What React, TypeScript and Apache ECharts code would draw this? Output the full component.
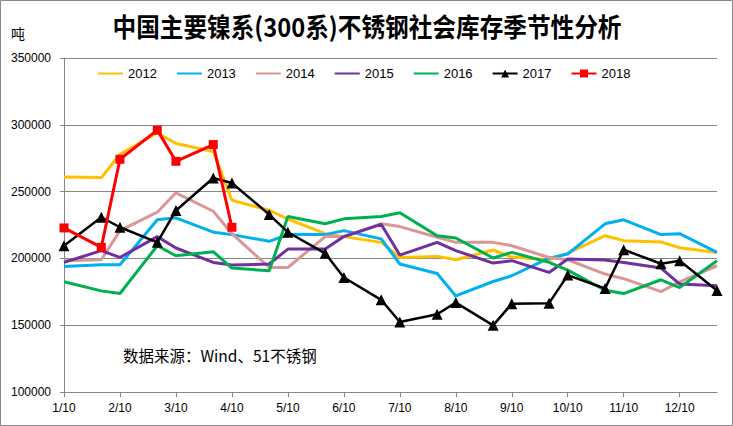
import React, { useEffect, useRef } from 'react';
import * as echarts from 'echarts';

// 36 ten-day slots (labels shown only on the 10th of each month)
const months = ['1', '2', '3', '4', '5', '6', '7', '8', '9', '10', '11', '12'];
const categories = months.flatMap((m) => [`${m}/10`, `${m}/20`, `${m}/30`]);

// slots where each year has an observation (10th and end of month)
const sampleSlots = [0, 2, 3, 5, 6, 8, 9, 11, 12, 14, 15, 17, 18, 20, 21, 23, 24, 26, 27, 29, 30, 32, 33, 35];

const years = ['2012', '2013', '2014', '2015', '2016', '2017', '2018'];
const colors = ['#FFC000', '#00B0F0', '#D99795', '#7030A0', '#00B050', '#000000', '#FF0000'];

const v2012 = [261000, 260500, 278000, 294000, 286000, 280000, 243500, 236000, 229500, 218500, 216300, 212000, 200700, 201500, 199000, 206300, 201000, 199000, 204000, 217000, 213300, 212300, 208000, 204500];
const v2013 = [194000, 195200, 195200, 228900, 230400, 219600, 217800, 212800, 217800, 217800, 220800, 214600, 195800, 188700, 171900, 182700, 187000, 200200, 203300, 225900, 228900, 217800, 218500, 204500];
const v2014 = [198300, 199000, 220800, 234600, 249100, 235300, 218500, 193200, 193200, 216300, 216300, 226000, 223800, 215800, 212000, 212000, 209500, 200700, 199000, 188300, 184800, 175100, 182500, 194500];
const v2015 = [197000, 205800, 200700, 216300, 207800, 197000, 195000, 195800, 207000, 207000, 216300, 225500, 202500, 212000, 205800, 196500, 198300, 189500, 199500, 198800, 197000, 192800, 180800, 179500];
const v2016 = [182500, 175700, 173700, 209500, 202000, 205000, 192800, 190700, 231300, 225900, 229600, 231300, 234100, 217000, 215300, 200300, 204500, 197000, 191200, 176200, 173700, 184000, 178200, 198300];
const v2017 = [209500, 230800, 223300, 212000, 235900, 260200, 256400, 232800, 219600, 203800, 185700, 169000, 152400, 158200, 166900, 149900, 166100, 166500, 187500, 177500, 206500, 196000, 198300, 176000];
const v2018 = [222800, 208300, 274200, 296000, 272700, 285200, 223300];

const yearValues = [v2012, v2013, v2014, v2015, v2016, v2017, v2018];
const markerYears = ['2017', '2018'];

const titleText = '中国主要镍系(300系)不锈钢社会库存季节性分析';
const unitText = '吨';
const sourceText = '数据来源：Wind、51不锈钢';

const latin = '"Liberation Sans", Arial, sans-serif';
const cjk = '"Noto Sans CJK SC", sans-serif';

export default function App() {
  const ref = useRef<HTMLDivElement>(null);
  useEffect(() => {
    const chart = echarts.init(ref.current!, null, { renderer: 'svg' });
    const series = years.map((y, idx) => {
      const vals = yearValues[idx];
      const data = vals.map((v, k) => [sampleSlots[k], v]);
      const base: any = {
        name: y,
        type: 'line',
        data,
        color: colors[idx],
        lineStyle: { width: 3, color: colors[idx] },
        symbol: 'none',
        connectNulls: true,
        z: 2 + idx,
      };
      if (y === '2017') {
        base.symbol = 'triangle';
        base.symbolSize = 11;
        base.itemStyle = { color: '#000' };
        base.lineStyle = { width: 2.5, color: '#000' };
      }
      if (y === '2018') {
        base.symbol = 'rect';
        base.symbolSize = 9;
        base.itemStyle = { color: '#FF0000' };
      }
      return base;
    });
    chart.setOption({
      animation: false,
      backgroundColor: '#fff',
      grid: { left: 64, right: 16, top: 58, bottom: 34, containLabel: false },
      legend: {
        left: 97,
        top: 67,
        padding: 0,
        itemWidth: 25,
        itemHeight: 10,
        itemGap: 19,
        textStyle: { fontFamily: latin, fontSize: 13, color: '#000' },
        data: years.map((y) =>
          markerYears.includes(y) ? { name: y } : { name: y, itemStyle: { opacity: 0 } }
        ),
      },
      xAxis: {
        type: 'category',
        data: categories,
        boundaryGap: false,
        axisLine: { lineStyle: { color: '#868686', width: 1 } },
        axisTick: { interval: 2, length: 5, lineStyle: { color: '#868686' } },
        axisLabel: { interval: 2, margin: 10, fontFamily: latin, fontSize: 12, color: '#000' },
        splitLine: { show: false },
      },
      yAxis: {
        type: 'value',
        min: 100000,
        max: 350000,
        interval: 50000,
        axisLine: { show: true, lineStyle: { color: '#868686', width: 1 } },
        axisTick: { show: true, length: 4, lineStyle: { color: '#868686' } },
        axisLabel: {
          margin: 13,
          fontFamily: latin,
          fontSize: 12,
          color: '#000',
          formatter: (v: number) => String(v),
        },
        splitLine: { lineStyle: { color: '#868686', width: 1 } },
      },
      graphic: [
        {
          type: 'rect',
          shape: { x: 0.5, y: 0.5, width: 732, height: 425 },
          style: { fill: 'none', stroke: '#888', lineWidth: 1 },
          silent: true,
        },
        {
          type: 'text',
          x: 367,
          y: 25,
          scaleX: 0.91,
          style: { text: titleText, align: 'center', verticalAlign: 'middle', fontFamily: cjk, fontSize: 26, fontWeight: 'bold', fill: '#000' },
        },
        {
          type: 'text',
          x: 11,
          y: 33,
          style: { text: unitText, align: 'left', verticalAlign: 'middle', fontFamily: cjk, fontSize: 14, fill: '#000' },
        },
        {
          type: 'text',
          x: 123,
          y: 355,
          style: { text: sourceText, align: 'left', verticalAlign: 'middle', fontFamily: cjk, fontSize: 15.5, fill: '#000' },
        },
      ],
      series,
    });
    return () => chart.dispose();
  }, []);
  return (
    <div
      ref={ref}
      style={{ position: 'fixed', left: 0, top: 0, width: 733, height: 426, background: '#fff' }}
    />
  );
}
